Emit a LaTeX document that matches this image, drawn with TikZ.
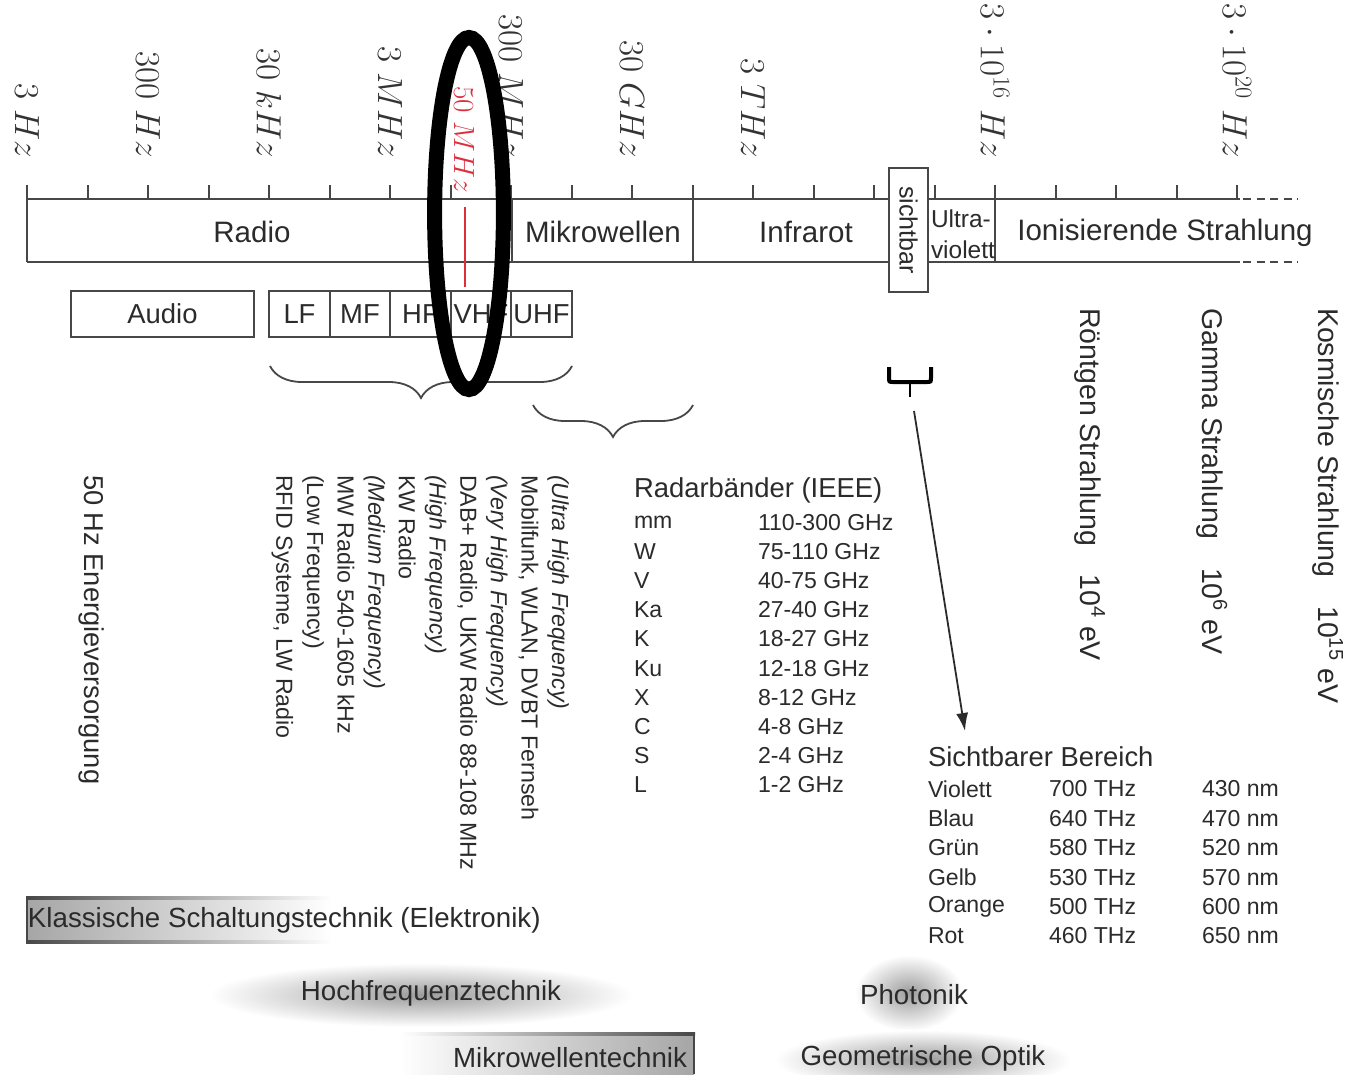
\documentclass[tikz,border=0pt]{standalone}
\usepackage{fontspec}
\setsansfont{Liberation Sans}
\usetikzlibrary{arrows.meta, decorations.pathreplacing}
\definecolor{cline}{HTML}{474747}
\definecolor{ctext}{HTML}{2B2B2B}
\definecolor{cred}{HTML}{DD2E3C}
\definecolor{cshade}{HTML}{9C9C9C}
\tikzset{
  every picture/.style={font=\sffamily, line width=0.5mm, text=ctext},
  bar/.style={draw=cline, line width=0.5mm},
  freq/.style={rotate=-90, anchor=east, inner sep=0pt, text=black!80, font=\fontsize{23}{27}\selectfont},
  region/.style={inner sep=0pt, font=\sffamily\fontsize{21}{25}\selectfont},
  band/.style={draw=cline, line width=0.45mm, minimum height=11.5mm, inner sep=0pt, font=\sffamily\fontsize{19.5}{23}\selectfont},
  brace/.style={decorate, decoration={brace, amplitude=8mm}, draw=cline, line width=0.45mm},
  tabhead/.style={anchor=west, inner sep=0pt, font=\sffamily\fontsize{19.5}{23}\selectfont},
  tabrow/.style={anchor=west, inner sep=0pt, font=\sffamily\fontsize{16.4}{20}\selectfont},
  vlist/.style={rotate=-90, anchor=north west, align=left, inner sep=0pt, font=\sffamily\fontsize{16.5}{21.8}\selectfont},
  vlabel/.style={rotate=-90, anchor=west, inner sep=0pt, font=\sffamily\fontsize{20.3}{24}\selectfont},
  field/.style={inner sep=0pt, font=\sffamily\fontsize{19.7}{23}\selectfont},
  arrow/.style={-{Latex[length=4.5mm, width=3mm]}, draw=ctext, line width=0.45mm},
}

\begin{document}
\begin{tikzpicture}[x=0.25mm, y=-0.25mm]
  \path[fill=white, use as bounding box] (0,0) rectangle (1358,1074);
  \foreach \k in {0,...,20} \draw[bar] (27+60.5*\k,185) -- (27+60.5*\k,199);
  \foreach \k/\f in {0/3\ Hz, 2/300\ Hz, 4/30\ kHz, 6/3\ MHz, 8/300\ MHz, 10/30\ GHz, 12/3\ THz, 16/3\cdot 10^{16}\ Hz, 20/3\cdot 10^{20}\ Hz}
    \node[freq] (f\k) at (27+60.5*\k,159) {$\f$};
  \node[freq, text=cred, font=\fontsize{21}{25}\selectfont] (f50) at (464,194) {$50\ MHz$};
  \draw[bar] (27,199) -- (1240,199) (27,262) -- (1240,262);
  \draw[bar, dash pattern=on 2mm off 1.4mm] (1243,199) -- (1298,199) (1243,262) -- (1298,262);
  \foreach \x in {27,512,693,995} \draw[bar] (\x,199) -- (\x,262);
  \draw[cred, line width=0.5mm] (465,207) -- (465,287);
  \node[region] (radio) at (252,232) {Radio};
  \node[region] (micro) at (603,232) {Mikrowellen};
  \node[region] (infra) at (806,232) {Infrarot};
  \node[region, anchor=west, align=left, font=\sffamily\fontsize{17.4}{22}\selectfont] (uv) at (930,234) {Ultra-\\violett};
  \node[region] (ion) at (1165,233) {Ionisierende Strahlung};
  \node[draw=cline, line width=0.45mm, fill=white, rotate=-90, minimum width=31mm, minimum height=9.75mm, inner sep=0pt,
    font=\sffamily\fontsize{17.8}{21}\selectfont] (vis) at (908.5,230) {sichtbar};
  \node[band, minimum width=45.75mm] (audio) at (162.5,314) {Audio};
  \foreach \n [count=\i] in {LF,MF,HF,VHF,UHF}
    \node[band, minimum width=15.125mm] (sb\i) at (239+60.5*\i,314) {\n};
  \draw[brace] (572,366) -- (270,366);
  \draw[brace] (693,405) -- (533,405);
  \draw[black, line width=1mm] (889,367) -- (889,377) .. controls (889,382) .. (893,382) -- (927,382) .. controls (931,382) .. (931,377) -- (931,367);
  \draw[black, line width=0.6mm] (910,382) -- (910,397);
  \coordinate (visbrace) at (914,411);
  \coordinate (visarrow) at (965,731);
  \draw[arrow] (visbrace) -- (visarrow);
  \node[vlabel, font=\sffamily\fontsize{19.4}{23}\selectfont] (energy) at (92,474) {50 Hz Energieversorgung};
  \node[vlist] (rflist) at (570,474) {\textit{(Ultra High Frequency)}\\Mobilfunk, WLAN, DVBT Fernseh\\\textit{(Very High Frequency)}\\DAB+ Radio, UKW Radio 88-108 MHz\\\textit{(High Frequency)}\\KW Radio\\\textit{(Medium Frequency)}\\MW Radio 540-1605 kHz\\(Low Frequency)\\RFID Systeme, LW Radio};
  \node[tabhead] (radar) at (633,490) {Radarbänder (IEEE)};
  \foreach \b/\f [count=\i] in {mm/110-300 GHz, W/75-110 GHz, V/40-75 GHz, Ka/27-40 GHz, K/18-27 GHz, Ku/12-18 GHz, X/8-12 GHz, C/4-8 GHz, S/2-4 GHz, L/1-2 GHz} {
    \node[tabrow] (rb\i) at (633,493+29.2*\i) {\b};
    \node[tabrow] (rf\i) at (757,493+29.2*\i) {\f};
  }
  \node[tabhead] (vistitle) at (927,757) {Sichtbarer Bereich};
  \foreach \c/\f/\w [count=\i] in {Violett/700/430, Blau/640/470, Grün/580/520, Gelb/530/570, Orange/500/600, Rot/460/650} {
    \node[tabrow] (vc\i) at (927,759.6+29.4*\i) {\c};
    \node[tabrow] (vf\i) at (1048,759.6+29.4*\i) {\f\ THz};
    \node[tabrow] (vw\i) at (1201,759.6+29.4*\i) {\w\ nm};
  }
  \node[vlabel] (xray) at (1090,307) {Röntgen Strahlung\quad 10\textsuperscript{4} eV};
  \node[vlabel] (gamma) at (1212,307) {Gamma Strahlung\quad 10\textsuperscript{6} eV};
  \node[vlabel] (cosmic) at (1328,307) {Kosmische Strahlung\quad 10\textsuperscript{15} eV};
  \shade[left color=black!35, right color=white] (27,897) rectangle (332,942);
  \shade[left color=cline, right color=white] (26,896) rectangle (332,899);
  \shade[left color=cline, right color=white] (26,940) rectangle (332,943);
  \draw[bar] (27,896) -- (27,943);
  \node[field, anchor=west] (classic) at (27,920) {Klassische Schaltungstechnik (Elektronik)};
  \shade[inner color=cshade, outer color=white] (421,995) ellipse [x radius=53mm, y radius=8mm];
  \node[field] (hf) at (431,993) {Hochfrequenztechnik};
  \shade[left color=white, right color=black!35] (400,1033) rectangle (694,1074);
  \shade[left color=white, right color=cline] (400,1032) rectangle (695,1035);
  \draw[bar] (694,1032) -- (694,1074);
  \node[field, anchor=east] (mwt) at (688,1058) {Mikrowellentechnik};
  \shade[inner color=cshade, outer color=white] (909,993) ellipse [x radius=13.5mm, y radius=9.5mm];
  \node[field] (photonik) at (914,995) {Photonik};
  \shade[inner color=cshade, outer color=white] (923,1060) ellipse [x radius=37mm, y radius=7.5mm];
  \node[field] (geo) at (923,1058) {Geometrische Optik};
  \draw[black, line width=3.75mm] (469,213.5) ellipse [x radius=8.6mm, y radius=44mm];
\end{tikzpicture}
\end{document}
